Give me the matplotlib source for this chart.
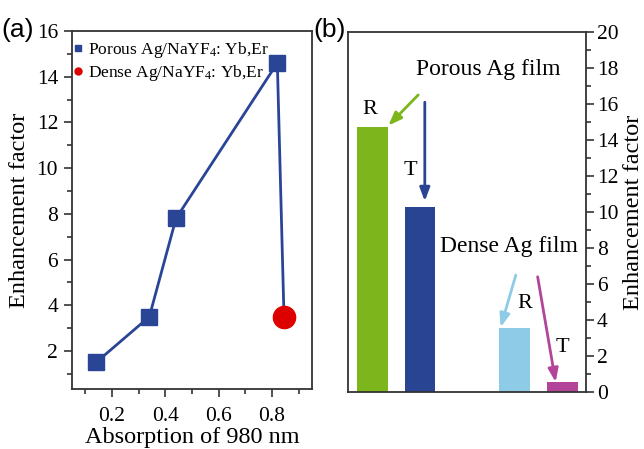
import matplotlib
matplotlib.use("Agg")
import matplotlib.pyplot as plt
from matplotlib.ticker import MultipleLocator

plt.rcParams['font.family'] = ['Liberation Serif', 'DejaVu Serif']
plt.rcParams['mathtext.fontset'] = 'custom'
plt.rcParams['mathtext.rm'] = 'Liberation Serif'
plt.rcParams['mathtext.it'] = 'Liberation Serif:italic'

# ---- data ----
porous_abs = [0.14, 0.34, 0.44, 0.82]
porous_ef = [1.5, 3.5, 7.8, 14.6]
dense_abs = [0.845]
dense_ef = [3.5]

bar_pos = [1, 2, 4, 5]
bar_labels = ['R', 'T', 'R', 'T']
bar_values = [14.7, 10.3, 3.55, 0.55]
bar_colors = ['#7db61c', '#2a4494', '#8ecbe6', '#b2449a']

blue = '#2a4596'
red = '#dd0000'
spine_c = '#333333'

fig = plt.figure(figsize=(6.44, 4.49), dpi=100)

# ---------- panel (a) ----------
axa = fig.add_axes([72/644, 1-389/449, 240/644, 358/449])
axa.plot(porous_abs + dense_abs, porous_ef + dense_ef, color=blue, lw=2, zorder=2)
axa.plot(porous_abs, porous_ef, ls='none', marker='s', ms=11, color=blue, zorder=3)
axa.plot(dense_abs, dense_ef, ls='none', marker='o', ms=16, color=red, zorder=3)
axa.set_xlim(0.05, 0.95)
axa.set_ylim(0.34, 16)
axa.xaxis.set_minor_locator(MultipleLocator(0.1))
axa.yaxis.set_minor_locator(MultipleLocator(1))
axa.set_xticks([0.2, 0.4, 0.6, 0.8])
axa.set_xticklabels(['0.2', '0.4', '0.6', '0.8'])
axa.set_yticks([2, 4, 6, 8, 10, 12, 14, 16])
axa.tick_params(which='both', direction='out', labelsize=15.5, color=spine_c, width=1.2)
axa.tick_params(which='major', length=6, pad=4)
axa.tick_params(which='minor', length=3.5)
axa.tick_params(axis='x', pad=7)
for s in axa.spines.values():
    s.set_linewidth(1.3)
    s.set_color(spine_c)
axa.set_xlabel('Absorption of 980 nm', fontsize=17.5, labelpad=1)
axa.set_ylabel('Enhancement factor', fontsize=17.5, labelpad=5)

h1, = axa.plot([], [], ls='none', marker='s', ms=4, color=blue)
h2, = axa.plot([], [], ls='none', marker='o', ms=5, color=red)
axa.legend([h1, h2], [r'Porous Ag/NaYF$_4$: Yb,Er', r'Dense Ag/NaYF$_4$: Yb,Er'],
           loc='upper left', bbox_to_anchor=(-0.01, 0.99), frameon=False, fontsize=12.5,
           handlelength=0.4, handletextpad=0.35, borderaxespad=0.0, labelspacing=0.2,
           borderpad=0.3)

fig.text(1/644, 1-30/449, '(a)', fontsize=19, family=['Liberation Sans', 'DejaVu Sans'],
         va='center', ha='left')

# ---------- panel (b) ----------
axb = fig.add_axes([348/644, 1-392/449, 238/644, 360/449])
axb.bar(bar_pos, bar_values, width=0.65, color=bar_colors, zorder=2)
axb.set_xlim(0.48, 5.5)
axb.set_ylim(0, 20)
axb.set_xticks([])
axb.yaxis.tick_right()
axb.yaxis.set_label_position('right')
axb.yaxis.set_major_locator(MultipleLocator(2))
axb.yaxis.set_minor_locator(MultipleLocator(1))
axb.tick_params(which='both', direction='out', labelsize=15.5, color=spine_c, width=1.2,
                left=False, right=True)
axb.tick_params(which='major', length=6, pad=2)
axb.tick_params(which='minor', length=3.5)
for s in axb.spines.values():
    s.set_linewidth(1.3)
    s.set_color(spine_c)
axb.set_ylabel('Enhancement factor', fontsize=17.5, labelpad=3)

axb.text(3.43, 17.9, 'Porous Ag film', fontsize=17, ha='center', va='center')
axb.text(3.87, 8.06, 'Dense Ag film', fontsize=17, ha='center', va='center')
axb.text(0.95, 15.7, bar_labels[0], fontsize=16, ha='center', va='center')
axb.text(1.79, 12.3, bar_labels[1], fontsize=16, ha='center', va='center')
axb.text(4.21, 4.94, bar_labels[2], fontsize=16, ha='center', va='center')
axb.text(5.01, 2.5, bar_labels[3], fontsize=16, ha='center', va='center')

arrows = [
    ((1.96, 16.5), (1.33, 14.8), bar_colors[0]),
    ((2.1, 16.1), (2.1, 10.6), bar_colors[1]),
    ((4.02, 6.5), (3.7, 3.6), bar_colors[2]),
    ((4.48, 6.4), (4.86, 0.55), bar_colors[3]),
]
for start, end, c in arrows:
    axb.annotate('', xy=end, xytext=start,
                 arrowprops=dict(arrowstyle='-|>,head_length=0.8,head_width=0.3',
                                 color=c, lw=2, shrinkA=0, shrinkB=0))

fig.text(313/644, 1-30/449, '(b)', fontsize=19, family=['Liberation Sans', 'DejaVu Sans'],
         va='center', ha='left')

fig.savefig('out.png', dpi=100)
